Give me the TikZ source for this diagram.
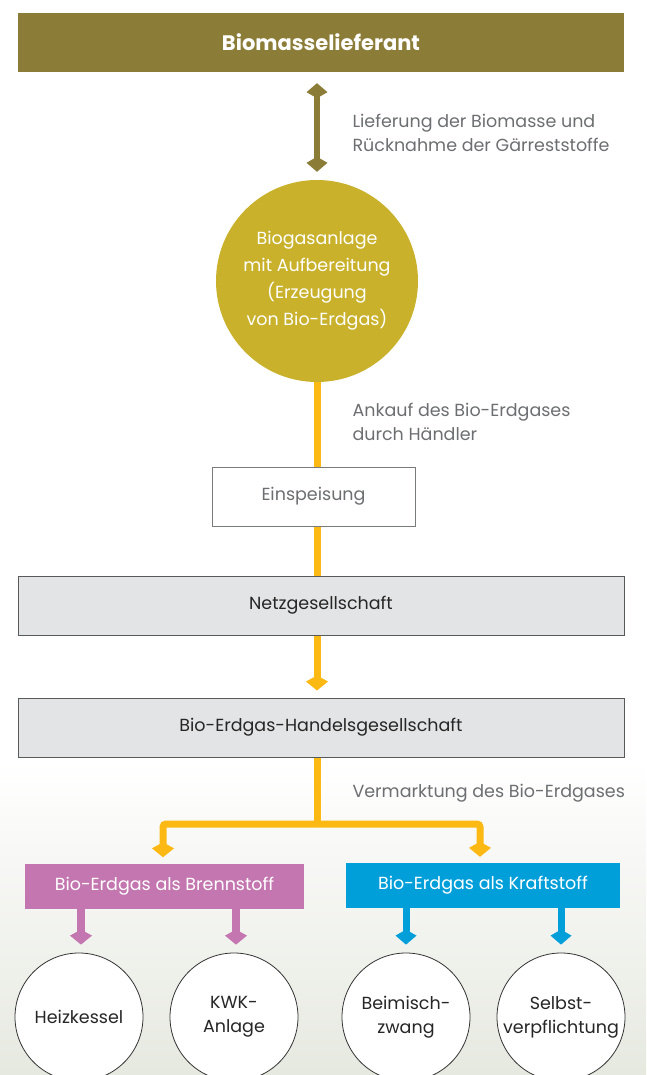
\documentclass[tikz,border=0pt]{standalone}
\usepackage{fontspec}
\setmainfont{Poppins}
\usetikzlibrary{arrows.meta,positioning,calc}
\definecolor{oliv}{HTML}{8B7D37}
\definecolor{mustard}{HTML}{C9B12C}
\definecolor{gold}{HTML}{FDB913}
\definecolor{pinkbg}{HTML}{C376AF}
\definecolor{bluebg}{HTML}{009FDA}
\definecolor{barfill}{HTML}{E3E4E6}
\definecolor{barline}{HTML}{58595B}
\definecolor{notegray}{HTML}{6D6E71}
\definecolor{bgbottom}{HTML}{E6E9E0}

\begin{document}
\begin{tikzpicture}[x=1pt,y=-1pt,
  txt/.style={font=\fontsize{17.5}{24}\selectfont},
  topbar/.style={fill=oliv,text=white,minimum width=606,minimum height=59,
    font=\fontsize{21}{24}\selectfont\bfseries},
  bar/.style={txt,draw=barline,line width=1pt,fill=barfill,text=black!85,
    minimum width=606,minimum height=59},
  plainbox/.style={txt,draw=barline!80,line width=1pt,fill=white,text=notegray,
    minimum width=203,minimum height=59},
  hub/.style={circle,fill=mustard,text=white,minimum size=202,align=center,
    font=\fontsize{17.5}{27}\selectfont},
  usebox/.style={txt,text=white,minimum height=45},
  endpoint/.style={txt,circle,draw=black!80,line width=0.8pt,fill=white,
    minimum size=128,inner sep=0pt,align=center,text=black!85},
  note/.style={txt,text=notegray,align=left,anchor=west},
  olivearrow/.style={draw=oliv,line width=6.5pt,{Kite[length=15pt,width=21pt,inset=6pt]}-{Kite[length=15pt,width=21pt,inset=6pt]}},
  goldline/.style={draw=gold,line width=7pt},
  goldarrow/.style={goldline,-{Kite[length=15pt,width=22pt,inset=6pt]}},
  pinkarrow/.style={draw=pinkbg,line width=8pt,-{Kite[length=15pt,width=22pt,inset=6pt]}},
  bluearrow/.style={draw=bluebg,line width=7pt,-{Kite[length=15pt,width=21pt,inset=6pt]}}]
\useasboundingbox (0,0) rectangle (646,1075);
\clip (0,0) rectangle (646,1075);
\fill[top color=white,bottom color=bgbottom] (0,760) rectangle (646,1075);

\node[topbar] at (321,42.5) (lief) {Biomasselieferant};
\node[hub] at (317,281) (anlage) {Biogasanlage\\mit Aufbereitung\\(Erzeugung\\von Bio-Erdgas)};
\node[plainbox] at (313.5,496.5) (einsp) {Einspeisung};
\node[bar] at (321,605.5) (netz) {Netzgesellschaft};
\node[bar] at (321,727.5) (handel) {Bio-Erdgas-Handelsgesellschaft};
\node[usebox,fill=pinkbg,minimum width=279] at (164.5,886) (brenn) {Bio-Erdgas als Brennstoff};
\node[usebox,fill=bluebg,minimum width=274] at (483,885.5) (kraft) {Bio-Erdgas als Kraftstoff};
\node[endpoint] at (79,1017) (heiz) {Heizkessel};
\node[endpoint] at (234,1017) (kwk) {KWK-\\Anlage};
\node[endpoint] at (406,1017) (beim) {Beimisch-\\zwang};
\node[endpoint] at (561,1017) (selbst) {Selbst-\\verpflichtung};

\node[note] at (349,133) (lblLief) {Lieferung der Biomasse und\\Rücknahme der Gärreststoffe};
\node[note] at (349,422) (lblAnkauf) {Ankauf des Bio-Erdgases\\durch Händler};
\node[note] at (349,793) (lblVerm) {Vermarktung des Bio-Erdgases};

\coordinate (split) at (317,824);

\draw[olivearrow] ($(lief.south -| anlage.north)+(0,11)$) -- ($(anlage.north)+(0,-8)$);
\draw[goldline] (anlage.south) -- (einsp.north -| anlage.south);
\draw[goldline] (einsp.south -| anlage.south) -- (netz.north -| anlage.south);
\draw[goldarrow] (netz.south -| anlage.south) -- ($(handel.north -| anlage.south)+(0,-7)$);
\draw[goldline] (handel.south -| anlage.south) -- (split);
\draw[goldarrow,rounded corners=3] (split) -| ($(brenn.north)+(-1.5,-6)$);
\draw[goldarrow,rounded corners=3] (split) -| ($(kraft.north)+(-3,-6)$);
\draw[pinkarrow] (brenn.south -| heiz.north) ++(2,0) -- ($(heiz.north)+(2,-8)$);
\draw[pinkarrow] (brenn.south -| kwk.north) ++(2,0) -- ($(kwk.north)+(2,-8)$);
\draw[bluearrow] (kraft.south -| beim.north) -- ($(beim.north)+(0,-8)$);
\draw[bluearrow] (kraft.south -| selbst.north) -- ($(selbst.north)+(0,-8)$);
\end{tikzpicture}
\end{document}
